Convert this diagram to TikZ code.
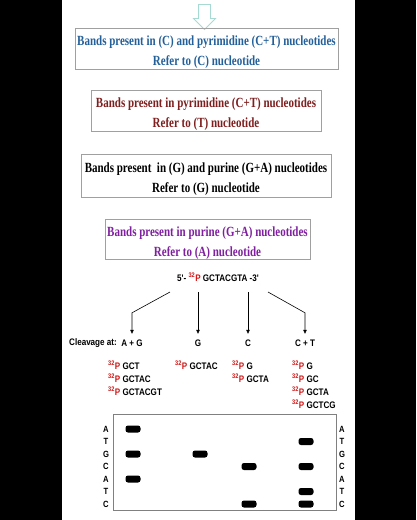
\documentclass[tikz,border=0pt]{standalone}
\usepackage{fontspec}
\usetikzlibrary{positioning, arrows.meta, shapes.arrows}
\newfontfamily\boxfont[FakeStretch=0.785]{Liberation Serif}
\newfontfamily\gelfont[FakeStretch=0.85]{Liberation Sans}
\definecolor{flechec}{HTML}{A6DAD2}
\definecolor{cadrec}{HTML}{A0A0A0}
\definecolor{txtbleu}{HTML}{23609A}
\definecolor{txtrouge}{HTML}{7E1E1E}
\definecolor{txtviolet}{HTML}{8020A0}
\definecolor{marq}{HTML}{D01414}
\definecolor{gelc}{HTML}{808080}
\newcommand{\marque}{{\color{marq}\textsuperscript{32}P}}
\newcommand{\haut}{\rule{0pt}{17pt}}

\begin{document}
\begin{tikzpicture}[
  x=1pt, y=-1pt,
  panel/.style={draw=cadrec, line width=0.7pt, align=center, inner sep=0pt,
                font=\boxfont\bfseries\fontsize{14}{20}\selectfont},
  seqtxt/.style={font=\gelfont\bfseries\fontsize{9.5}{11}\selectfont, inner sep=1pt},
  frag/.style={seqtxt, anchor=west},
  lab/.style={seqtxt, text height=7pt, text depth=1pt},
  band/.style={fill=black, rounded corners=2.5pt, minimum width=15pt,
               minimum height=7pt, inner sep=0pt},
  fl/.style={-{Triangle[length=4pt,width=3.5pt]}, line width=0.6pt},
]
\useasboundingbox (0,0) rectangle (416,520);
% ---- cadre noir de la capture
\fill[black] (0,0) rectangle (416,520);
\fill[white] (62,0) rectangle (355,520);
% ---- la flèche et les quatre encadrés
\node[single arrow, shape border rotate=270, draw=flechec, line width=0.8pt,
      minimum height=25pt, minimum width=21pt, single arrow head extend=5pt,
      inner sep=5.5pt] (fleche) at (204.5,14) {};
\node[panel, text=txtbleu, minimum width=263pt, minimum height=41pt] (b1) at (206.5,48.5)
  {\haut Bands present in (C) and pyrimidine (C+T) nucleotides\\Refer to (C) nucleotide};
\node[panel, text=txtrouge, minimum width=230pt, minimum height=41pt] (b2) at (206,110.5)
  {\haut Bands present in pyrimidine (C+T) nucleotides\\Refer to (T) nucleotide};
\node[panel, text=black, minimum width=250pt, minimum height=43pt] (b3) at (206,175.5)
  {\haut Bands present~ in (G) and purine (G+A) nucleotides\\Refer to (G) nucleotide};
\node[panel, text=txtviolet, minimum width=205pt, minimum height=40pt] (b4) at (207.5,239)
  {\haut Bands present in purine (G+A) nucleotides\\Refer to (A) nucleotide};
% ---- la séquence et les quatre coupures
\node[seqtxt] (seq) at (218,277) {5'- \marque{} GCTACGTA -3'};
\coordinate (d1) at (170,292);
\coordinate (d2) at (198,292);
\coordinate (d3) at (248,292);
\coordinate (d4) at (268,292);
\node[seqtxt, anchor=west] (clv) at (68,343) {Cleavage at:};
\node[lab] (lAG) at (132,343) {A + G};
\node[lab] (lG) at (198,343) {G};
\node[lab] (lC) at (248,343) {C};
\node[lab] (lCT) at (305,343) {C + T};
\draw[fl, shorten >=4pt] (d1) -- ([yshift=25pt]lAG.north) -- (lAG.north);
\draw[fl, shorten >=4pt] (d2) -- (lG.north);
\draw[fl, shorten >=4pt] (d3) -- (lC.north);
\draw[fl, shorten >=4pt] (d4) -- ([yshift=25pt]lCT.north) -- (lCT.north);
% ---- fragments marqués
\node[frag] (f11) at (107,365) {\marque{} GCT};
\node[frag] (f12) at (107,378) {\marque{} GCTAC};
\node[frag] (f13) at (107,391) {\marque{} GCTACGT};
\node[frag] (f21) at (174,365) {\marque{} GCTAC};
\node[frag] (f31) at (231,365) {\marque{} G};
\node[frag] (f32) at (231,378) {\marque{} GCTA};
\node[frag] (f41) at (291,365) {\marque{} G};
\node[frag] (f42) at (291,378) {\marque{} GC};
\node[frag] (f43) at (291,391) {\marque{} GCTA};
\node[frag] (f44) at (291,404) {\marque{} GCTCG};
% ---- le gel
\node[draw=gelc, line width=0.8pt, minimum width=223pt, minimum height=96pt,
      inner sep=0pt] (gel) at (224.5,462) {};
\node[seqtxt, align=center, font=\gelfont\bfseries\fontsize{9}{12.5}\selectfont]
  (gl) at (106,466.5) {A\\T\\G\\C\\A\\T\\C};
\node[seqtxt, align=center, font=\gelfont\bfseries\fontsize{9}{12.5}\selectfont]
  (gr) at (342,466.5) {A\\T\\G\\C\\A\\T\\C};
\node[band] (a1) at (133,429) {};
\node[band] (a2) at (133,454) {};
\node[band] (a3) at (133,479) {};
\node[band] (g1) at (200,454) {};
\node[band] (c1) at (249,466.5) {};
\node[band] (c2) at (249,504) {};
\node[band] (t1) at (306,441.5) {};
\node[band] (t2) at (306,466.5) {};
\node[band] (t3) at (306,491.5) {};
\node[band] (t4) at (306,504) {};
\end{tikzpicture}
\end{document}
